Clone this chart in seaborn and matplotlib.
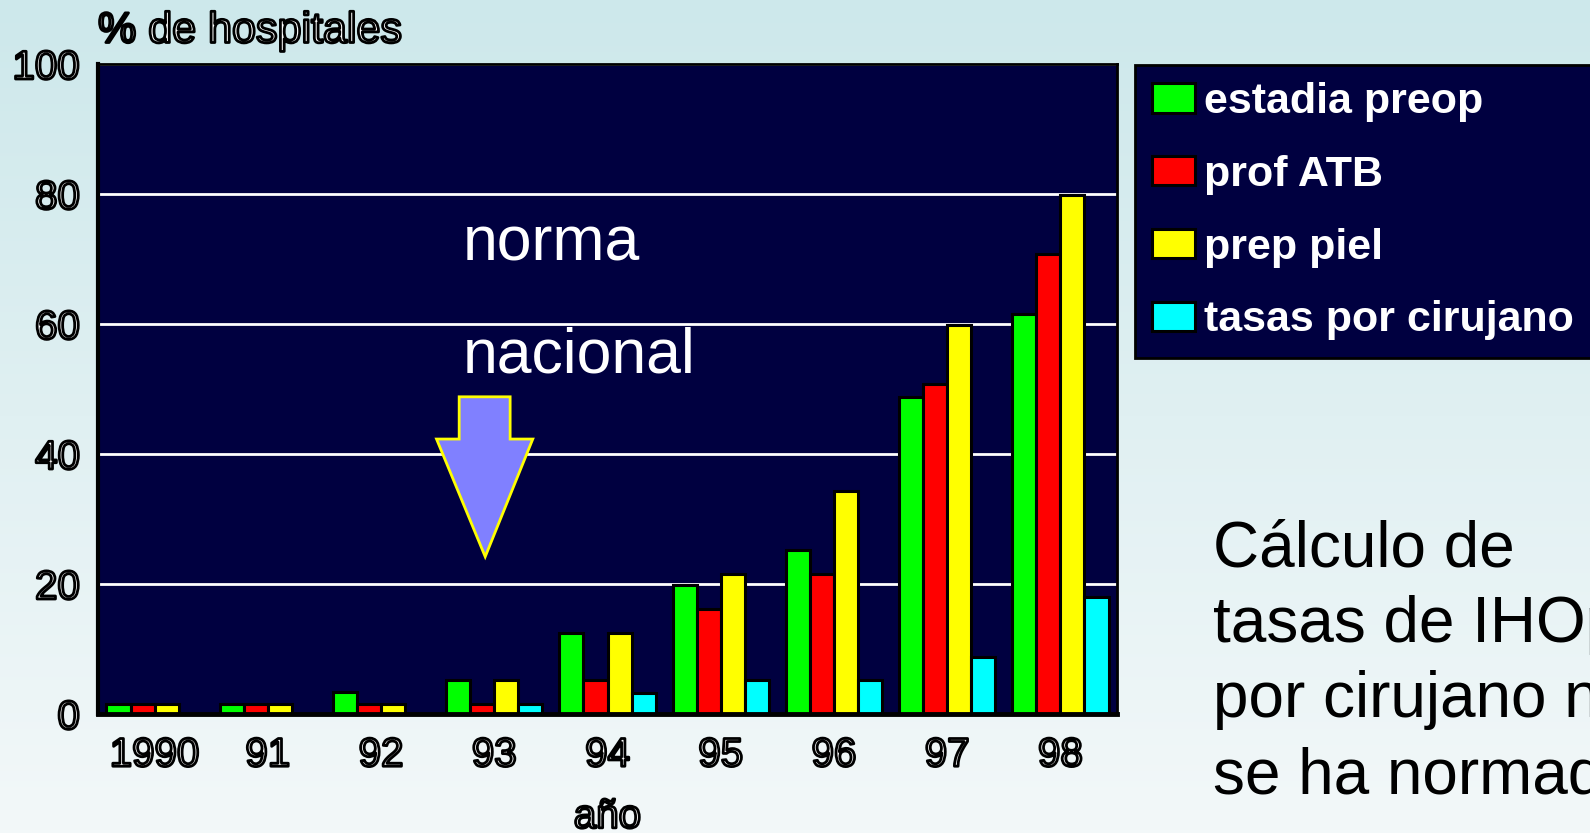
import numpy as np
import pandas as pd
import matplotlib
matplotlib.use("Agg")
import matplotlib.pyplot as plt
from matplotlib import patheffects as pe
from matplotlib.patches import Polygon
import seaborn as sns

# ---- data ----
years = ["1990", "91", "92", "93", "94", "95", "96", "97", "98"]
series = ["estadia preop", "prof ATB", "prep piel", "tasas por cirujano"]
estadia_preop = [1.5, 1.5, 3.4, 5.3, 12.5, 19.8, 25.3, 48.8, 61.5]
prof_atb = [1.5, 1.5, 1.5, 1.5, 5.3, 16.2, 21.5, 50.8, 70.7]
prep_piel = [1.5, 1.5, 1.5, 5.3, 12.5, 21.5, 34.3, 59.9, 79.9]
tasas_por_cirujano = [np.nan, np.nan, np.nan, 1.5, 3.3, 5.3, 5.3, 8.8, 18.0]
y_ticks = [0, 20, 40, 60, 80, 100]
colors = ["#00ff00", "#ff0000", "#ffff00", "#00ffff"]

df = pd.DataFrame({
    "year": np.tile(years, 4),
    "series": np.repeat(series, len(years)),
    "value": estadia_preop + prof_atb + prep_piel + tasas_por_cirujano,
}).dropna()

sns.set_theme(style="white")
plt.rcParams["font.family"] = ["Liberation Sans", "DejaVu Sans"]

W, H = 1590, 833
fig = plt.figure(figsize=(W / 100, H / 100), dpi=100)

# gradient background
bg = fig.add_axes([0, 0, 1, 1], zorder=-10)
top = np.array([205, 232, 235]) / 255
bot = np.array([243, 248, 249]) / 255
t = np.linspace(0, 1, 256)[:, None]
grad = top[None, None, :] * (1 - t[..., None]) + bot[None, None, :] * t[..., None]
grad = np.repeat(grad, 2, axis=1)
bg.imshow(grad, aspect="auto", extent=[0, 1, 0, 1])
bg.axis("off")

navy = "#000040"
L, R, B, T = 98, 1117, 714, 64
ax = fig.add_axes([L / W, 1 - B / H, (R - L) / W, (B - T) / H])
ax.set_facecolor(navy)

sns.barplot(data=df, x="year", y="value", hue="series", order=years,
            hue_order=series, palette=colors, edgecolor="black",
            linewidth=2.2, width=0.85, saturation=1, ax=ax, legend=True)

ax.set_ylim(0, 100)
ax.set_yticks(y_ticks)
ax.set_xlim(-0.5, len(years) - 0.5)
ax.yaxis.grid(True, color="white", linewidth=2)
ax.xaxis.grid(False)
ax.set_axisbelow(True)
for s in ax.spines.values():
    s.set_color("black")
    s.set_linewidth(2)
ax.spines["left"].set_linewidth(3)
ax.spines["bottom"].set_linewidth(3.5)

outline = [pe.Stroke(linewidth=2.0, foreground="black")]
ax.tick_params(axis="both", length=0, labelsize=29, labelcolor="white")
ax.tick_params(axis="y", pad=13)
ax.tick_params(axis="x", pad=16)
for lab in ax.get_xticklabels() + ax.get_yticklabels():
    lab.set_path_effects(outline)

ax.set_xlabel("año", fontsize=29, color="white", labelpad=17, path_effects=outline)
ax.set_ylabel("% de hospitales", fontsize=31, color="white", rotation=0,
              ha="left", va="center", path_effects=outline)
ax.yaxis.set_label_coords(0, 1.05)

# legend
handles, labels = ax.get_legend_handles_labels()
leg = ax.legend(handles, labels, loc="upper left",
                bbox_to_anchor=(1135 / W, 1 - 65 / H), bbox_transform=fig.transFigure,
                borderaxespad=0, frameon=True, fancybox=False, framealpha=1,
                facecolor=navy, edgecolor="black", prop={"weight": "bold", "size": 31},
                handlelength=1.0, handleheight=0.67, handletextpad=0.2,
                labelspacing=0.76, borderpad=0.4)
leg.get_frame().set_linewidth(2)
for txt in leg.get_texts():
    txt.set_color("white")

# annotation: "norma nacional" with arrow
ax.text(2.72, 69.8, "norma", color="white", fontsize=45, ha="left", va="baseline")
ax.text(2.72, 52.5, "nacional", color="white", fontsize=45, ha="left", va="baseline")
arrow = Polygon([(2.69, 48.8), (3.14, 48.8), (3.14, 42.3), (3.34, 42.3),
                 (2.92, 24.2), (2.49, 42.3), (2.69, 42.3)], closed=True,
                facecolor="#8080ff", edgecolor="#ffff00", linewidth=2, zorder=5)
ax.add_patch(arrow)

# side note (last line baseline at the reference position)
fig.text(1213 / W, 1 - 793 / H,
         "Cálculo de\ntasas de IHOp\npor cirujano no\nse ha normado",
         fontsize=46, color="black", ha="left", va="baseline", linespacing=1.33)

fig.savefig("out.png", dpi=100)
